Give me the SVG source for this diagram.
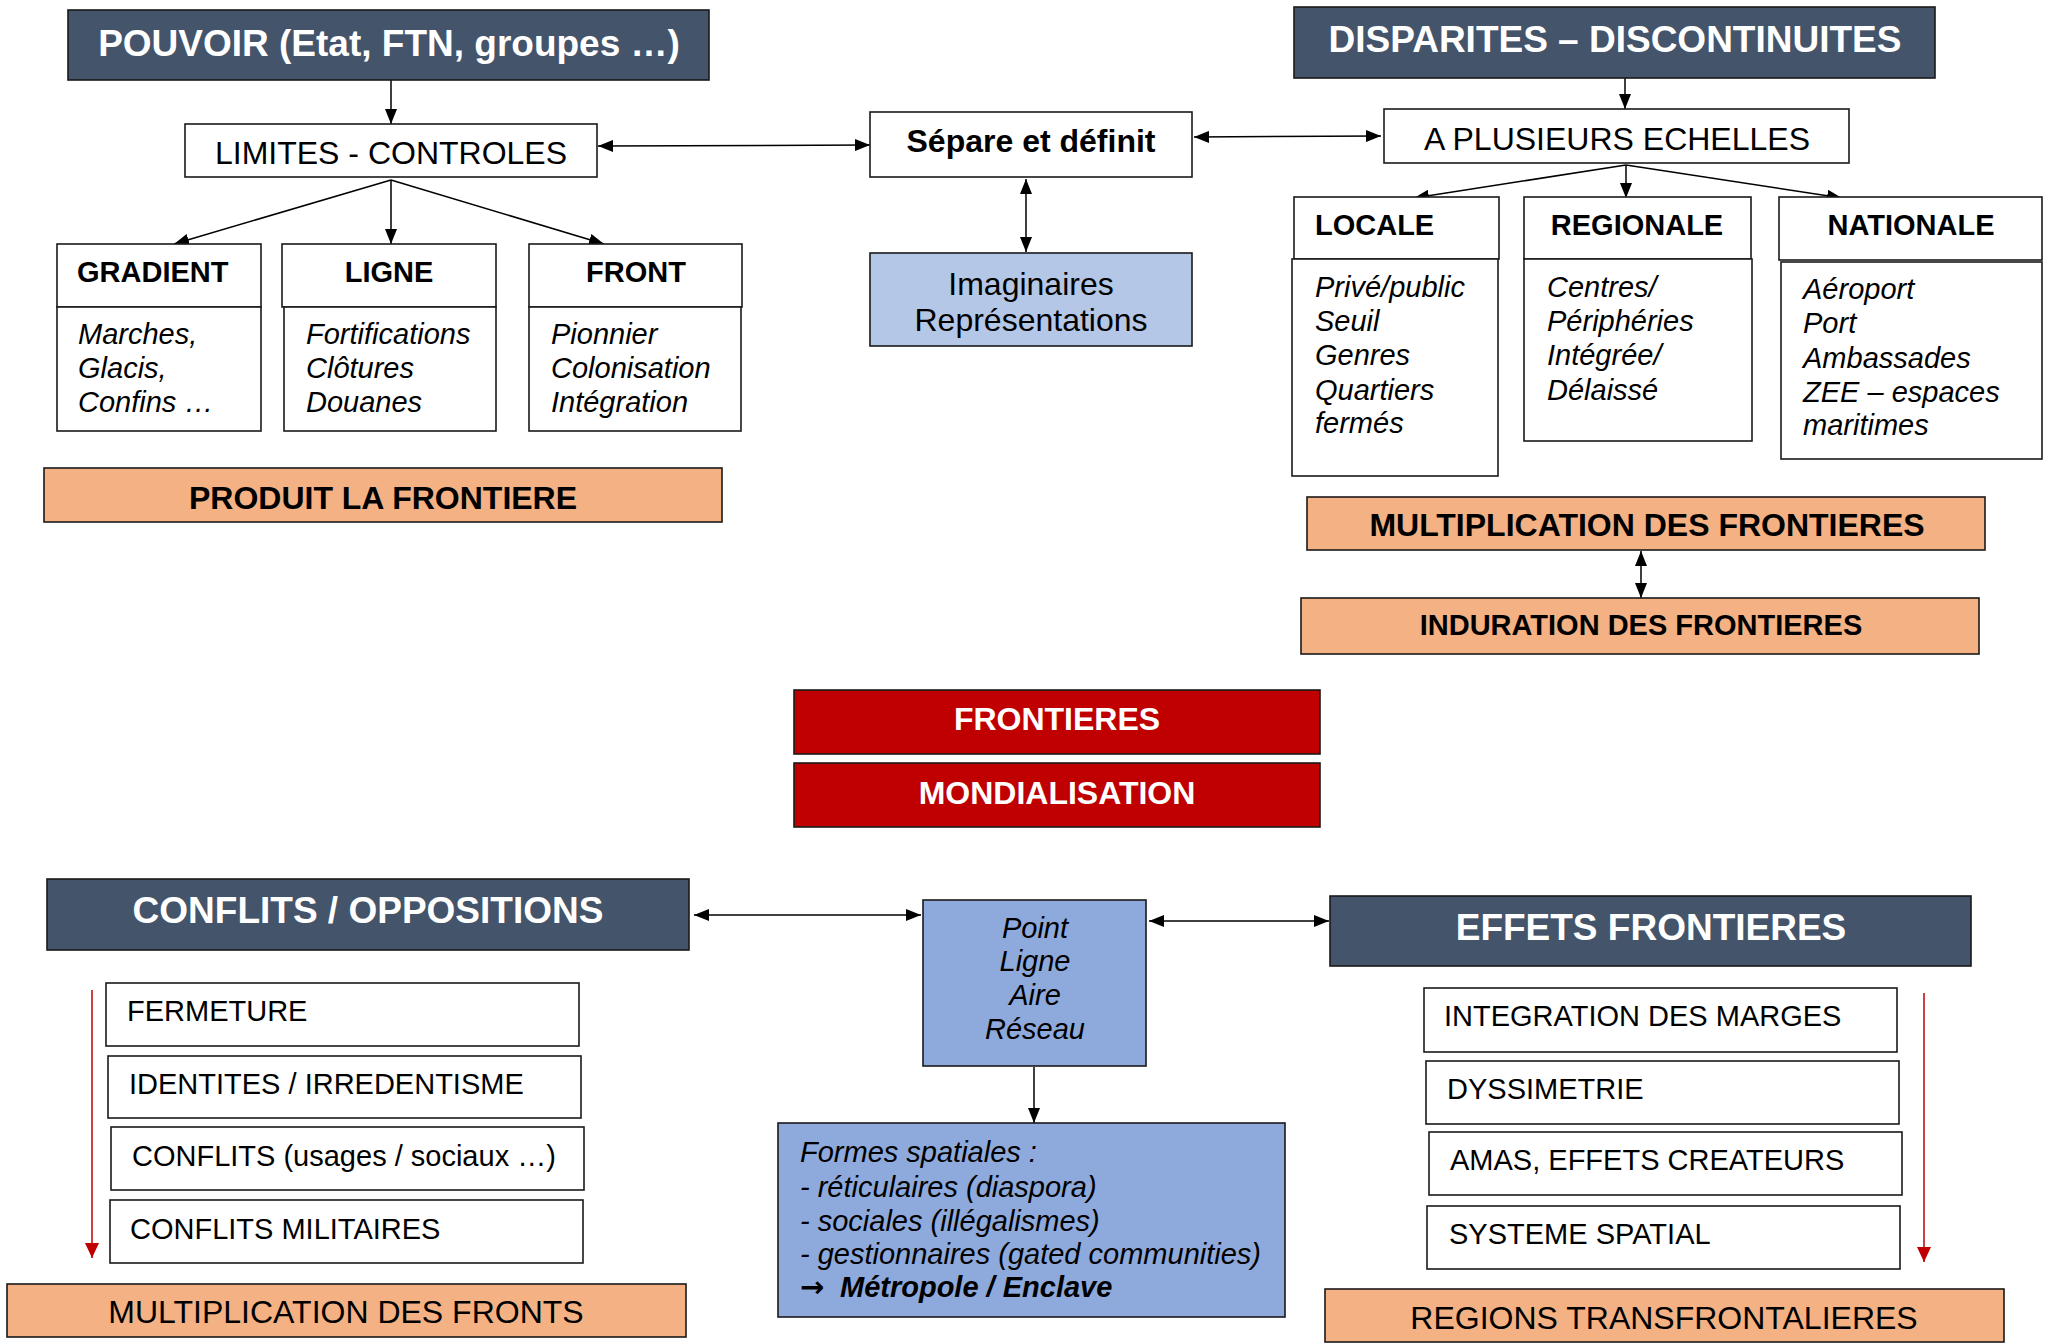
<svg xmlns="http://www.w3.org/2000/svg" width="2045" height="1343" viewBox="0 0 2045 1343">
<defs>
<style>
.b{stroke:#1a1a1a;stroke-width:1.6;fill:#fff}
.dk{fill:#44546A}
.or{fill:#F4B183}
.lb{fill:#B4C7E7}
.mb{fill:#8EA9DB}
.rd{fill:#C00000}
text{font-family:"Liberation Sans",Arial,sans-serif;fill:#000}
.h1{font-size:37px;font-weight:bold;fill:#fff;text-anchor:middle}
.h2{font-size:32px;font-weight:bold;text-anchor:middle}
.h2w{font-size:32px;font-weight:bold;fill:#fff;text-anchor:middle}
.h3{font-size:29px;font-weight:bold}
.r32{font-size:32px;text-anchor:middle}
.r29{font-size:29px}
.it{font-size:29px;font-style:italic}
.c{stroke:#000;stroke-width:1.5;fill:none}
.cr{stroke:#C00000;stroke-width:1.5;fill:none}
</style>
<marker id="ah" viewBox="0 0 15 12" refX="15" refY="6" markerWidth="15" markerHeight="12" orient="auto-start-reverse" markerUnits="userSpaceOnUse"><path d="M0,0 L15,6 L0,12 z" fill="#000"/></marker>
<marker id="ahr" viewBox="0 0 15 14" refX="15" refY="7" markerWidth="15" markerHeight="14" orient="auto" markerUnits="userSpaceOnUse"><path d="M0,0 L15,7 L0,14 z" fill="#C00000"/></marker>
</defs>
<rect width="2045" height="1343" fill="#fff"/>

<g id="connectors">
<line class="c" x1="391" y1="80" x2="391" y2="124" marker-end="url(#ah)"/>
<line class="c" x1="598" y1="146" x2="870" y2="145" marker-start="url(#ah)" marker-end="url(#ah)"/>
<line class="c" x1="1026" y1="179" x2="1026" y2="252" marker-start="url(#ah)" marker-end="url(#ah)"/>
<line class="c" x1="1194" y1="137" x2="1381" y2="136" marker-start="url(#ah)" marker-end="url(#ah)"/>
<line class="c" x1="1625" y1="78" x2="1625" y2="109" marker-end="url(#ah)"/>
<line class="c" x1="391" y1="180" x2="174" y2="244" marker-end="url(#ah)"/>
<line class="c" x1="391" y1="180" x2="391" y2="244" marker-end="url(#ah)"/>
<line class="c" x1="391" y1="180" x2="604" y2="244" marker-end="url(#ah)"/>
<line class="c" x1="1626" y1="165" x2="1414" y2="198" marker-end="url(#ah)"/>
<line class="c" x1="1626" y1="165" x2="1626" y2="198" marker-end="url(#ah)"/>
<line class="c" x1="1626" y1="165" x2="1842" y2="198" marker-end="url(#ah)"/>
<line class="c" x1="1641" y1="551" x2="1641" y2="598" marker-start="url(#ah)" marker-end="url(#ah)"/>
<line class="c" x1="694" y1="915" x2="921" y2="915" marker-start="url(#ah)" marker-end="url(#ah)"/>
<line class="c" x1="1149" y1="921" x2="1329" y2="921" marker-start="url(#ah)" marker-end="url(#ah)"/>
<line class="c" x1="1034" y1="1067" x2="1034" y2="1123" marker-end="url(#ah)"/>
<line class="cr" x1="92" y1="990" x2="92" y2="1258" marker-end="url(#ahr)"/>
<line class="cr" x1="1924" y1="993" x2="1924" y2="1262" marker-end="url(#ahr)"/>
</g>

<g id="pouvoir"><rect class="b dk" x="68" y="10" width="641" height="70"/><text class="h1" x="389" y="56">POUVOIR (Etat, FTN, groupes …)</text></g>
<g id="limites"><rect class="b" x="185" y="124" width="412" height="53"/><text class="r32" x="391" y="164">LIMITES - CONTROLES</text></g>
<g id="separe"><rect class="b" x="870" y="112" width="322" height="65"/><text class="h2" x="1031" y="152">Sépare et définit</text></g>
<g id="imaginaires"><rect class="b lb" x="870" y="253" width="322" height="93"/><text class="r32" x="1031" y="295">Imaginaires</text><text class="r32" x="1031" y="331">Représentations</text></g>
<g id="disparites"><rect class="b dk" x="1294" y="7" width="641" height="71"/><text class="h1" x="1615" y="52">DISPARITES – DISCONTINUITES</text></g>
<g id="echelles"><rect class="b" x="1384" y="109" width="465" height="54"/><text class="r32" x="1617" y="150">A PLUSIEURS ECHELLES</text></g>

<g id="gradient"><rect class="b" x="57" y="244" width="204" height="63"/><rect class="b" x="57" y="307" width="204" height="124"/><text class="h3" x="77" y="282">GRADIENT</text><text class="it" x="78" y="344">Marches,</text><text class="it" x="78" y="378">Glacis,</text><text class="it" x="78" y="412">Confins …</text></g>
<g id="ligne"><rect class="b" x="282" y="244" width="214" height="63"/><rect class="b" x="284" y="307" width="212" height="124"/><text class="h3" x="389" y="282" text-anchor="middle">LIGNE</text><text class="it" x="306" y="344">Fortifications</text><text class="it" x="306" y="378">Clôtures</text><text class="it" x="306" y="412">Douanes</text></g>
<g id="front"><rect class="b" x="529" y="244" width="213" height="63"/><rect class="b" x="529" y="307" width="212" height="124"/><text class="h3" x="636" y="282" text-anchor="middle">FRONT</text><text class="it" x="551" y="344">Pionnier</text><text class="it" x="551" y="378">Colonisation</text><text class="it" x="551" y="412">Intégration</text></g>
<g id="produit"><rect class="b or" x="44" y="468" width="678" height="54"/><text class="h2" x="383" y="509">PRODUIT LA FRONTIERE</text></g>

<g id="locale"><rect class="b" x="1294" y="197" width="205" height="62"/><rect class="b" x="1292" y="259" width="206" height="217"/><text class="h3" x="1315" y="235">LOCALE</text><text class="it" x="1315" y="297">Privé/public</text><text class="it" x="1315" y="331">Seuil</text><text class="it" x="1315" y="365">Genres</text><text class="it" x="1315" y="400">Quartiers</text><text class="it" x="1315" y="433">fermés</text></g>
<g id="regionale"><rect class="b" x="1524" y="197" width="227" height="62"/><rect class="b" x="1524" y="259" width="228" height="182"/><text class="h3" x="1637" y="235" text-anchor="middle">REGIONALE</text><text class="it" x="1547" y="297">Centres/</text><text class="it" x="1547" y="331">Périphéries</text><text class="it" x="1547" y="365">Intégrée/</text><text class="it" x="1547" y="400">Délaissé</text></g>
<g id="nationale"><rect class="b" x="1779" y="197" width="263" height="63"/><rect class="b" x="1781" y="262" width="261" height="197"/><text class="h3" x="1911" y="235" text-anchor="middle">NATIONALE</text><text class="it" x="1803" y="299">Aéroport</text><text class="it" x="1803" y="333">Port</text><text class="it" x="1803" y="368">Ambassades</text><text class="it" x="1803" y="402">ZEE – espaces</text><text class="it" x="1803" y="435">maritimes</text></g>
<g id="multfrontieres"><rect class="b or" x="1307" y="497" width="678" height="53"/><text class="h2" x="1647" y="536">MULTIPLICATION DES FRONTIERES</text></g>
<g id="induration"><rect class="b or" x="1301" y="598" width="678" height="56"/><text class="h3" x="1641" y="635" text-anchor="middle">INDURATION DES FRONTIERES</text></g>

<g id="frontieres"><rect class="b rd" x="794" y="690" width="526" height="64"/><text class="h2w" x="1057" y="730">FRONTIERES</text></g>
<g id="mondialisation"><rect class="b rd" x="794" y="763" width="526" height="64"/><text class="h2w" x="1057" y="804">MONDIALISATION</text></g>

<g id="conflits"><rect class="b dk" x="47" y="879" width="642" height="71"/><text class="h1" x="368" y="923">CONFLITS / OPPOSITIONS</text></g>
<g id="fermeture"><rect class="b" x="106" y="983" width="473" height="63"/><text class="r29" x="127" y="1021">FERMETURE</text></g>
<g id="identites"><rect class="b" x="108" y="1056" width="473" height="62"/><text class="r29" x="129" y="1094">IDENTITES / IRREDENTISME</text></g>
<g id="usages"><rect class="b" x="111" y="1127" width="473" height="63"/><text class="r29" x="132" y="1166">CONFLITS (usages / sociaux …)</text></g>
<g id="militaires"><rect class="b" x="110" y="1200" width="473" height="63"/><text class="r29" x="130" y="1239">CONFLITS MILITAIRES</text></g>
<g id="multfronts"><rect class="b or" x="7" y="1284" width="679" height="53"/><text class="r32" x="346" y="1323">MULTIPLICATION DES FRONTS</text></g>

<g id="point"><rect class="b mb" x="923" y="900" width="223" height="166"/><text class="it" x="1035" y="938" text-anchor="middle">Point</text><text class="it" x="1035" y="971" text-anchor="middle">Ligne</text><text class="it" x="1035" y="1005" text-anchor="middle">Aire</text><text class="it" x="1035" y="1039" text-anchor="middle">Réseau</text></g>
<g id="formes"><rect class="b mb" x="778" y="1123" width="507" height="194"/><text class="it" x="800" y="1162">Formes spatiales :</text><text class="it" x="800" y="1197">- réticulaires (diaspora)</text><text class="it" x="800" y="1231">- sociales (illégalismes)</text><text class="it" x="800" y="1264">- gestionnaires (gated communities)</text><text class="it" x="800" y="1297" font-weight="bold"><tspan font-family="'DejaVu Sans',sans-serif" font-style="normal" font-size="29">→</tspan><tspan x="840">Métropole / Enclave</tspan></text></g>

<g id="effets"><rect class="b dk" x="1330" y="896" width="641" height="70"/><text class="h1" x="1651" y="940">EFFETS FRONTIERES</text></g>
<g id="integration"><rect class="b" x="1424" y="988" width="473" height="64"/><text class="r29" x="1444" y="1026">INTEGRATION DES MARGES</text></g>
<g id="dyssimetrie"><rect class="b" x="1426" y="1061" width="473" height="63"/><text class="r29" x="1447" y="1099">DYSSIMETRIE</text></g>
<g id="amas"><rect class="b" x="1429" y="1132" width="473" height="63"/><text class="r29" x="1450" y="1170">AMAS, EFFETS CREATEURS</text></g>
<g id="systeme"><rect class="b" x="1427" y="1206" width="473" height="63"/><text class="r29" x="1449" y="1244">SYSTEME SPATIAL</text></g>
<g id="regions"><rect class="b or" x="1325" y="1289" width="679" height="53"/><text class="r32" x="1664" y="1329">REGIONS TRANSFRONTALIERES</text></g>
</svg>
